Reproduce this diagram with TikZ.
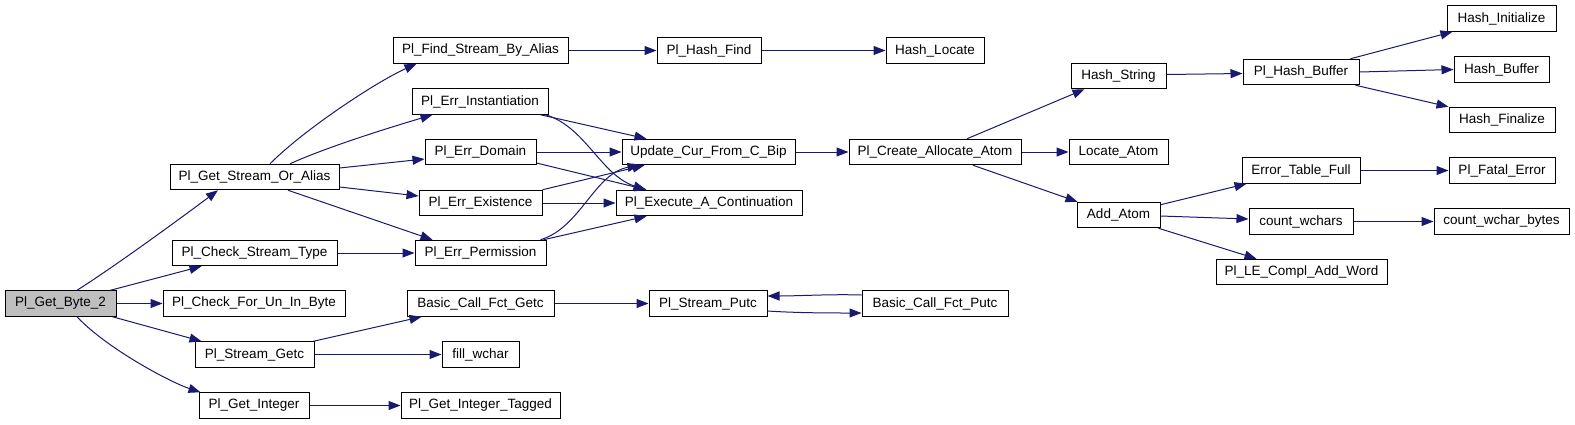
\documentclass[tikz,border=0pt]{standalone}
\usepackage{fontspec}
\setmainfont{Liberation Sans}
\usetikzlibrary{arrows.meta,calc}
\definecolor{edgeblue}{HTML}{191970}
\definecolor{rootgray}{HTML}{BFBFBF}
\tikzset{
  fn/.style={draw=black, line width=1pt, fill=white, inner sep=0pt, minimum height=25.5pt,
    font=\fontsize{13.5}{15}\selectfont},
  root/.style={fn, fill=rootgray},
  edge/.style={draw=edgeblue, line width=1pt, -{Triangle[length=12pt,width=9pt]}},
}
\begin{document}
\begin{tikzpicture}[x=1pt,y=-1pt]
\useasboundingbox (0,0) rectangle (1575,424);
% column 1
\node[root, minimum width=111pt] (gb2) at (60.5,303.5) {Pl\_Get\_Byte\_2};
% column 2
\node[fn, minimum width=169pt] (gsoa) at (254.5,177) {Pl\_Get\_Stream\_Or\_Alias};
\node[fn, minimum width=165pt] (cst) at (254.5,253) {Pl\_Check\_Stream\_Type};
\node[fn, minimum width=182pt] (cfu) at (254,303.5) {Pl\_Check\_For\_Un\_In\_Byte};
\node[fn, minimum width=119pt] (sgetc) at (254.5,354.5) {Pl\_Stream\_Getc};
\node[fn, minimum width=110pt] (gint) at (254,405.5) {Pl\_Get\_Integer};
% column 3
\node[fn, minimum width=175pt] (fsba) at (480.5,50.5) {Pl\_Find\_Stream\_By\_Alias};
\node[fn, minimum width=136pt] (einst) at (480,101.5) {Pl\_Err\_Instantiation};
\node[fn, minimum width=111pt] (edom) at (480.5,152) {Pl\_Err\_Domain};
\node[fn, minimum width=123pt] (eexist) at (480.5,203) {Pl\_Err\_Existence};
\node[fn, minimum width=131pt] (eperm) at (480.5,253) {Pl\_Err\_Permission};
\node[fn, minimum width=147pt] (bcfg) at (480.5,303.5) {Basic\_Call\_Fct\_Getc};
\node[fn, minimum width=77pt] (fillw) at (480.5,354.5) {fill\_wchar};
\node[fn, minimum width=159pt] (gintt) at (480.5,405.5) {Pl\_Get\_Integer\_Tagged};
% column 4
\node[fn, minimum width=104pt] (hfind) at (709,50.5) {Pl\_Hash\_Find};
\node[fn, minimum width=173pt] (upd) at (708.5,152) {Update\_Cur\_From\_C\_Bip};
\node[fn, minimum width=186pt] (exec) at (709,203) {Pl\_Execute\_A\_Continuation};
\node[fn, minimum width=118pt] (sputc) at (708,303.5) {Pl\_Stream\_Putc};
% column 5
\node[fn, minimum width=98pt] (hloc) at (935,50.5) {Hash\_Locate};
\node[fn, minimum width=172pt] (pcaa) at (935,152) {Pl\_Create\_Allocate\_Atom};
\node[fn, minimum width=146pt] (bcfp) at (935,303.5) {Basic\_Call\_Fct\_Putc};
% column 6
\node[fn, minimum width=95pt] (hstr) at (1118.5,76) {Hash\_String};
\node[fn, minimum width=99pt] (locat) at (1118.5,152) {Locate\_Atom};
\node[fn, minimum width=83pt] (addat) at (1118.5,215) {Add\_Atom};
% column 7
\node[fn, minimum width=116pt] (phb) at (1301,72) {Pl\_Hash\_Buffer};
\node[fn, minimum width=118pt] (etf) at (1301,170.5) {Error\_Table\_Full};
\node[fn, minimum width=104pt] (cwc) at (1301,221.5) {count\_wchars};
\node[fn, minimum width=171pt] (lecaw) at (1301.5,272) {Pl\_LE\_Compl\_Add\_Word};
% column 8
\node[fn, minimum width=109pt] (hinit) at (1501.5,18.5) {Hash\_Initialize};
\node[fn, minimum width=95pt] (hbuf) at (1501.5,69.5) {Hash\_Buffer};
\node[fn, minimum width=106pt] (hfin) at (1502,120) {Hash\_Finalize};
\node[fn, minimum width=106pt] (pfe) at (1502,170.5) {Pl\_Fatal\_Error};
\node[fn, minimum width=135pt] (cwb) at (1501.5,221.5) {count\_wchar\_bytes};

% edges from Pl_Get_Byte_2
\draw[edge] ($(gb2.north)+(16.5,0)$) .. controls +(35,-22) and +(-40,30) .. ($(gsoa.south)+(-36.5,0)$);
\draw[edge] ($(gb2.north east)+(-6,0)$) -- ($(cst.south west)+(30,0)$);
\draw[edge] (gb2.east) -- (cfu.west);
\draw[edge] ($(gb2.south east)+(-4,0)$) -- ($(sgetc.north west)+(7,0)$);
\draw[edge] ($(gb2.south)+(16.5,0)$) .. controls +(30,32) and +(-30,-10) .. ($(gint.north west)+(2,0)$);
% from Pl_Get_Stream_Or_Alias
\draw[edge] ($(gsoa.north)+(15.5,0)$) .. controls +(35,-35) and +(-40,18) .. ($(fsba.south west)+(24,0)$);
\draw[edge] ($(gsoa.north)+(35.5,0)$) .. controls +(40,-18) and +(-40,12) .. ($(einst.south west)+(21,0)$);
\draw[edge] ($(gsoa.east)+(0,-9)$) -- ($(edom.west)+(0,7)$);
\draw[edge] ($(gsoa.east)+(0,10)$) -- ($(eexist.west)+(0,-7)$);
\draw[edge] ($(gsoa.south)+(33.5,0)$) -- ($(eperm.north west)+(18,0)$);
% others column 2
\draw[edge] (cst.east) -- (eperm.west);
\draw[edge] ($(sgetc.north east)+(-1,0)$) -- ($(bcfg.south west)+(15,0)$);
\draw[edge] (sgetc.east) -- (fillw.west);
\draw[edge] (gint.east) -- (gintt.west);
% column 3
\draw[edge] (fsba.east) -- (hfind.west);
\draw[edge] (hfind.east) -- (hloc.west);
\draw[edge] ($(einst.south east)+(-8,0)$) -- ($(upd.north west)+(25,0)$);
\draw[edge] ($(einst.south east)+(-3,0)$) .. controls +(40,12) and +(-45,-15) .. ($(exec.north west)+(30,0)$);
\draw[edge] (edom.east) -- (upd.west);
\draw[edge] ($(edom.east)+(0,11)$) -- ($(exec.north west)+(31,0)$);
\draw[edge] (eexist.north east) -- ($(upd.south west)+(23,0)$);
\draw[edge] (eexist.east) -- (exec.west);
\draw[edge] ($(eperm.north east)+(-6,0)$) .. controls +(40,-12) and +(-45,8) .. ($(upd.south west)+(18,0)$);
\draw[edge] ($(eperm.north east)+(-3,0)$) -- ($(exec.south west)+(31,0)$);
\draw[edge] (bcfg.east) -- (sputc.west);
% column 4
\draw[edge] (upd.east) -- (pcaa.west);
\draw[edge] ($(sputc.east)+(0,7.5)$) .. controls +(30,2) and +(-30,0) .. ($(bcfp.west)+(0,9.5)$);
\draw[edge] ($(bcfp.west)+(0,-8.5)$) .. controls +(-30,-1) and +(30,0) .. ($(sputc.east)+(0,-7.5)$);
% column 5
\draw[edge] ($(pcaa.north)+(32,0)$) -- ($(hstr.south west)+(14,0)$);
\draw[edge] (pcaa.east) -- (locat.west);
\draw[edge] ($(pcaa.south)+(38,0)$) -- ($(addat.north west)+(1,0)$);
% column 6
\draw[edge] ($(hstr.east)+(0,-1.5)$) -- ($(phb.west)+(0,1.5)$);
\draw[edge] ($(addat.north east)+(0,3)$) -- ($(etf.south west)+(5,0)$);
\draw[edge] ($(addat.east)+(0,1)$) -- ($(cwc.west)+(0,-2.5)$);
\draw[edge] ($(addat.south east)+(-2,0)$) -- ($(lecaw.north west)+(41,0)$);
% column 7
\draw[edge] ($(phb.north east)+(-9,0)$) -- ($(hinit.south west)+(6,0)$);
\draw[edge] (phb.east) -- (hbuf.west);
\draw[edge] ($(phb.south east)+(-4,0)$) -- (hfin.north west);
\draw[edge] (etf.east) -- (pfe.west);
\draw[edge] (cwc.east) -- (cwb.west);
\end{tikzpicture}
\end{document}
